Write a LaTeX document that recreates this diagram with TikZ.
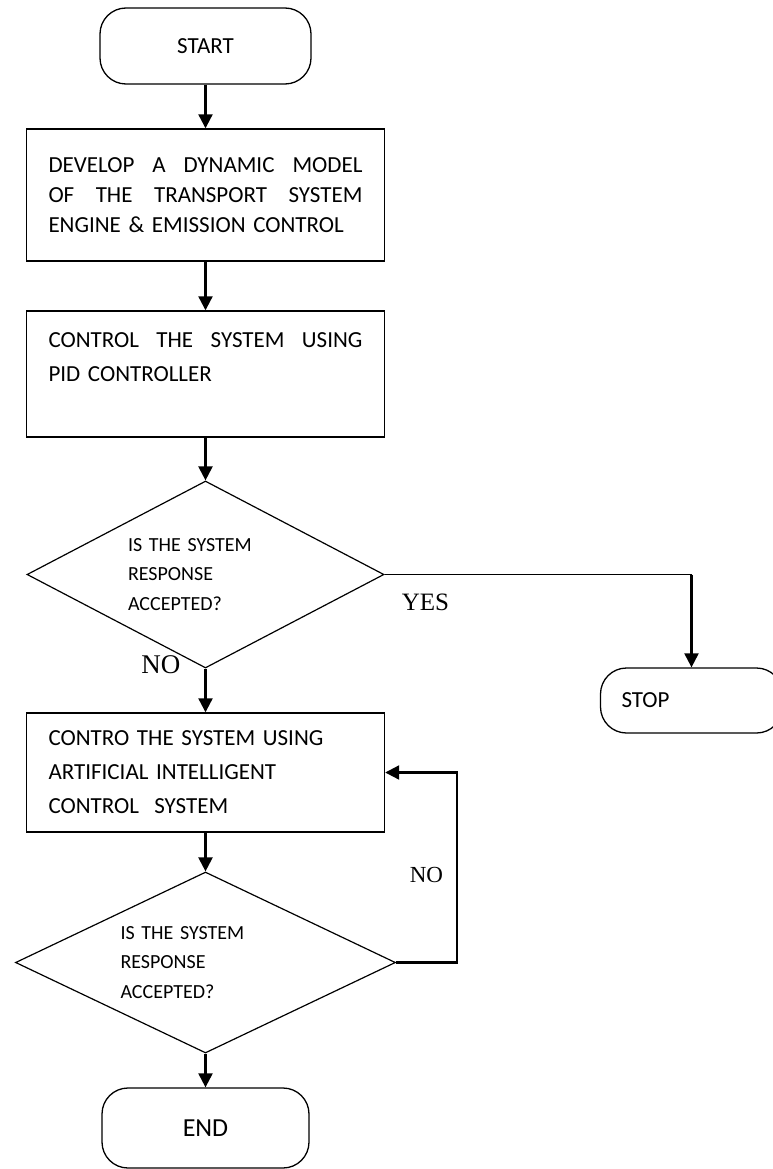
\documentclass[tikz,border=0pt]{standalone}
\usepackage{fontspec}
\setmainfont{Carlito}
\newfontfamily\timesfont{Liberation Serif}
\usetikzlibrary{shapes,arrows.meta,positioning}

\begin{document}
\begin{tikzpicture}[x=1pt,y=1pt]
\tikzset{
terminal/.style={rectangle,rounded corners=26pt,draw=black,line width=1.3pt,minimum width=211pt,minimum height=76pt,font=\fontsize{23}{28}\selectfont},
block/.style={rectangle,draw=black,line width=1.4pt,minimum width=358pt,text width=314pt,align=left,inner sep=0pt,font=\fontsize{23}{30}\selectfont},
decision/.style={diamond,draw=black,line width=1.2pt,inner sep=0pt,aspect=1.9,align=left,font=\fontsize{20}{29.5}\selectfont},
myarrow/.style={-{Triangle[width=14pt,length=14pt]}, line width=2.2pt},
myline/.style={line width=1.3pt},
mylabel/.style={inner sep=0pt,font=\timesfont\fontsize{25}{30}\selectfont},
}
\useasboundingbox (0,0) rectangle (773,-1169);

\node [terminal] (start) at (205.5,-46) {START};
\node [block, below of=start, node distance=149pt, minimum height=132pt] (model)
  {\makebox[314pt][l]{DEVELOP\hfill A\hfill DYNAMIC\hfill MODEL}\\
   \makebox[314pt][l]{OF\hfill THE\hfill TRANSPORT\hfill SYSTEM}\\
   ENGINE \& EMISSION CONTROL};
\node [block, below of=model, node distance=179pt, minimum height=126pt, font=\fontsize{23}{34}\selectfont] (pid)
  {\makebox[314pt][l]{CONTROL\hfill THE\hfill SYSTEM\hfill USING}\\
   PID CONTROLLER\\ \mbox{}};
\node [decision, below of=pid, node distance=200.5pt, minimum width=357pt, minimum height=187pt, text width=155pt] (check1)
  {IS THE SYSTEM\\ RESPONSE\\ ACCEPTED?};
\node [block, below of=check1, node distance=198pt, minimum height=119pt, font=\fontsize{23}{34}\selectfont] (aictrl)
  {CONTRO THE SYSTEM USING\\ ARTIFICIAL INTELLIGENT\\ CONTROL\ \ SYSTEM};
\node [decision, below of=aictrl, node distance=190pt, minimum width=380pt, minimum height=181pt, text width=170pt] (check2)
  {IS THE SYSTEM\\ RESPONSE\\ ACCEPTED?};
\node [terminal, below of=check2, node distance=165.5pt, minimum width=207pt, minimum height=80pt, font=\fontsize{26}{30}\selectfont] (finish) {END};
\node [terminal, right of=check1, node distance=486pt, yshift=-126pt, minimum width=182pt, minimum height=65pt, text width=140pt, align=left] (stop) {STOP};
\coordinate (yescorner) at (stop.north |- check1.east);

\node [mylabel, below right=19pt and 17pt of check1.east] (yes) {YES};
\node [mylabel, font=\timesfont\fontsize{27}{30}\selectfont, left=25pt of check1.south, yshift=4pt] (no) {NO};

\draw[myarrow] (start) -- (model);
\draw[myarrow] (model) -- (pid);
\draw[myarrow] (pid) -- (check1);
\draw[myarrow] (check1) -- (aictrl);
\draw[myline] (check1.east) -- (yescorner);
\draw[myarrow] (yescorner) -- (stop.north);
\draw[myarrow] (aictrl) -- (check2);
\draw[myarrow] (check2.east) -- ++(61,0) |- node[mylabel, font=\timesfont\fontsize{23}{30}\selectfont, pos=0.23, left=13pt] {NO} (aictrl.east);
\draw[myarrow] (check2) -- (finish);
\end{tikzpicture}
\end{document}
